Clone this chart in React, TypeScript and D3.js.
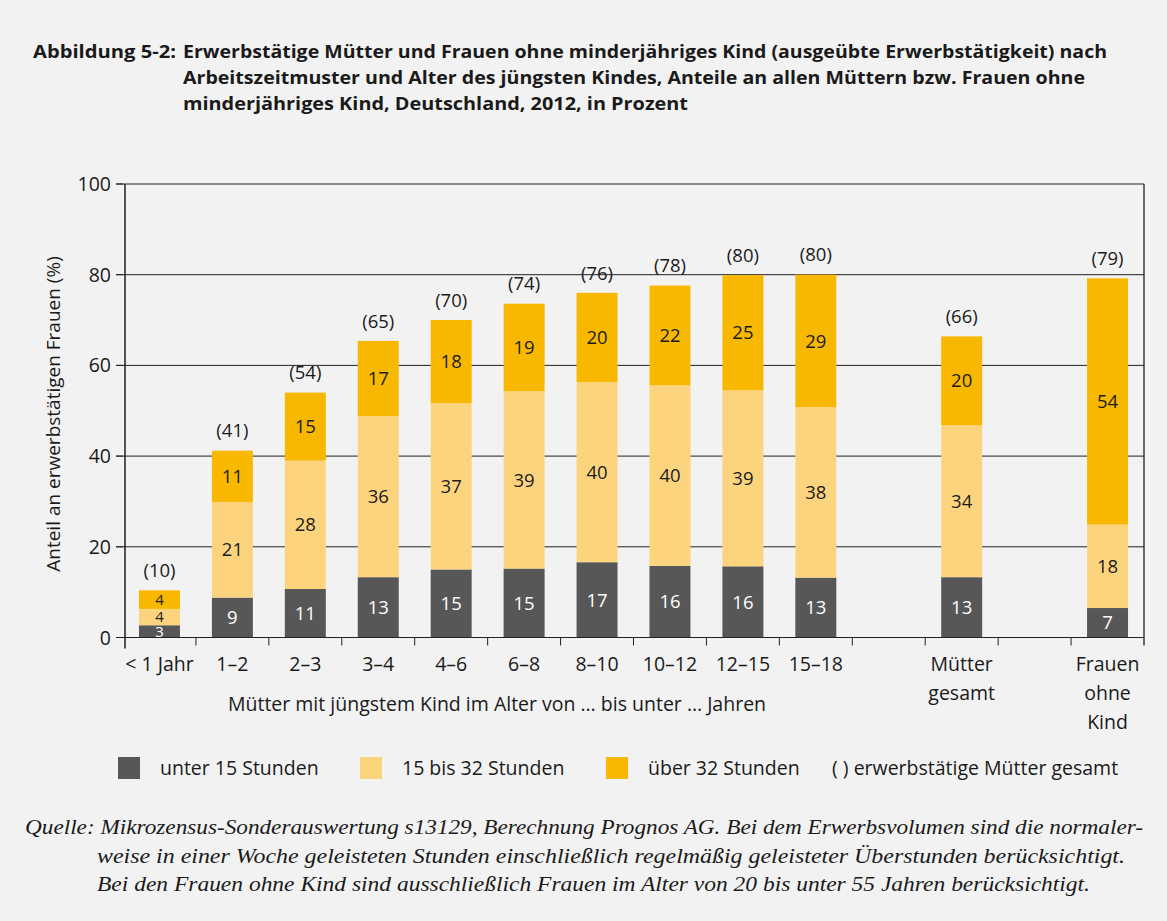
import React from "react";
import * as d3 from "d3";

const groups = ["< 1 Jahr", "1–2", "2–3", "3–4", "4–6", "6–8", "8–10", "10–12", "12–15", "15–18", "Mütter gesamt", "Frauen ohne Kind"];
const slots = ["< 1 Jahr", "1–2", "2–3", "3–4", "4–6", "6–8", "8–10", "10–12", "12–15", "15–18", "gap1", "Mütter gesamt", "gap2", "Frauen ohne Kind"];
const under15 = [2.7, 8.8, 10.7, 13.3, 15.0, 15.2, 16.6, 15.8, 15.7, 13.2, 13.3, 6.5];
const from15to32 = [3.6, 21.1, 28.3, 35.5, 36.7, 39.1, 39.7, 39.8, 38.8, 37.6, 33.5, 18.4];
const over32 = [4.1, 11.3, 15.0, 16.6, 18.3, 19.3, 19.7, 22.0, 25.4, 29.2, 19.6, 54.3];
const totals = [10, 41, 54, 65, 70, 74, 76, 78, 80, 80, 66, 79];
const yTicks = [0, 20, 40, 60, 80, 100];
const seriesNames = ["unter 15 Stunden", "15 bis 32 Stunden", "über 32 Stunden"];
const seriesColors = ["#575757", "#fdd47e", "#f8b800"];
const labelColors = ["#ffffff", "#1c1c1c", "#1c1c1c"];
const xLabelLines: Record<string, string[]> = {
  "Mütter gesamt": ["Mütter", "gesamt"],
  "Frauen ohne Kind": ["Frauen", "ohne", "Kind"],
};
const titleLines = [
  "Erwerbstätige Mütter und Frauen ohne minderjähriges Kind (ausgeübte Erwerbstätigkeit) nach",
  "Arbeitszeitmuster und Alter des jüngsten Kindes, Anteile an allen Müttern bzw. Frauen ohne",
  "minderjähriges Kind, Deutschland, 2012, in Prozent",
];
const titleWidths = [924, 902, 505];
const noteLines = [
  "Quelle: Mikrozensus-Sonderauswertung s13129, Berechnung Prognos AG. Bei dem Erwerbsvolumen sind die normaler-",
  "weise in einer Woche geleisteten Stunden einschließlich regelmäßig geleisteter Überstunden berücksichtigt.",
  "Bei den Frauen ohne Kind sind ausschließlich Frauen im Alter von 20 bis unter 55 Jahren berücksichtigt.",
];
const noteX = [25, 97, 97];
const noteWidths = [1118, 1028, 993];

const W = 1167;
const H = 921;
const left = 123;
const right = 1144;
const top = 184;
const bottom = 637.5;
const FONT = "'Open Sans', Lato, sans-serif";
const TXT = "#1a1a1a";

export default function App() {
  const x = d3.scaleBand<string>().domain(slots).range([left, right]).paddingInner(0.438).paddingOuter(0.219);
  const y = d3.scaleLinear().domain([0, 100]).range([bottom, top]);

  const table = groups.map((g, i) => ({ group: g, s0: under15[i], s1: from15to32[i], s2: over32[i] }));
  const stack = d3.stack<any>().keys(["s0", "s1", "s2"])(table);
  const step = (right - left) / slots.length;
  const bw = x.bandwidth();

  return (
    <div style={{ position: "absolute", left: 0, top: 0 }}>
      <svg width={W} height={H} style={{ display: "block", background: "#f2f2f2" }} fontFamily={FONT}>
        <rect x={0} y={0} width={W} height={H} fill="#f2f2f2" />
        {/* title */}
        <text x={33} y={58} fontSize={17.5} fontWeight={700} fill={TXT} textLength={143} lengthAdjust="spacingAndGlyphs">Abbildung 5-2:</text>
        {titleLines.map((t, i) => (
          <text key={i} x={183} y={58 + i * 26} fontSize={17.5} fontWeight={700} fill={TXT} textLength={titleWidths[i]} lengthAdjust="spacingAndGlyphs">{t}</text>
        ))}

        {/* gridlines */}
        {yTicks.filter((t) => t > 0).map((t) => (
          <line key={t} x1={left - 7} x2={right} y1={y(t)} y2={y(t)} stroke="#222" strokeWidth={1} />
        ))}
        {/* y tick marks */}
        {yTicks.map((t) => (
          <line key={"tk" + t} x1={left - 7} x2={left} y1={y(t)} y2={y(t)} stroke="#222" strokeWidth={1} />
        ))}
        {/* y labels */}
        {yTicks.map((t) => (
          <text key={"yl" + t} x={111} y={y(t)} dy="0.36em" textAnchor="end" fontSize={19.5} fill={TXT}>{t}</text>
        ))}
        <text transform={`translate(60,414) rotate(-90)`} textAnchor="middle" fontSize={19} fill={TXT}>
          Anteil an erwerbstätigen Frauen (%)
        </text>

        {/* bars */}
        {stack.map((layer, si) =>
          layer.map((d, i) => {
            const g = groups[i];
            return (
              <rect key={si + "-" + i} x={x(g)!} width={bw} y={y(d[1])} height={y(d[0]) - y(d[1])} fill={seriesColors[si]} />
            );
          })
        )}
        {/* segment labels */}
        {stack.map((layer, si) =>
          layer.map((d, i) => {
            const g = groups[i];
            const cx = x(g)! + bw / 2;
            const v = d[1] - d[0];
            const h = y(d[0]) - y(d[1]);
            const fs = h < 20 ? 15 : 18.5;
            return (
              <text key={"l" + si + "-" + i} x={cx} y={(y(d[0]) + y(d[1])) / 2} dy="0.36em" textAnchor="middle" fontSize={fs} fill={labelColors[si]}>
                {Math.round(v)}
              </text>
            );
          })
        )}
        {/* totals */}
        {groups.map((g, i) => (
          <text key={"t" + i} x={x(g)! + bw / 2} y={y(under15[i] + from15to32[i] + over32[i]) - 20} dy="0.36em" textAnchor="middle" fontSize={18.5} fill={TXT}>
            ({totals[i]})
          </text>
        ))}

        {/* axes */}
        <line x1={left - 7} x2={right} y1={bottom} y2={bottom} stroke="#222" strokeWidth={1.2} />
        <line x1={left + 2} x2={left + 2} y1={top} y2={bottom + 11} stroke="#111" strokeWidth={1.4} />
        <line x1={right} x2={right} y1={top} y2={bottom + 8} stroke="#111" strokeWidth={1.2} />
        {d3.range(1, slots.length).map((k) => (
          <line key={"xt" + k} x1={left + k * step} x2={left + k * step} y1={bottom} y2={bottom + 8} stroke="#222" strokeWidth={1} />
        ))}

        {/* x labels */}
        {groups.map((g) => {
          const lines = xLabelLines[g] || [g];
          return lines.map((ln, j) => (
            <text key={g + j} x={x(g)! + bw / 2} y={664 + j * 29} dy="0.36em" textAnchor="middle" fontSize={19.5} fill={TXT}>
              {ln}
            </text>
          ));
        })}
        <text x={497} y={704} dy="0.36em" textAnchor="middle" fontSize={19.5} fill={TXT}>
          Mütter mit jüngstem Kind im Alter von … bis unter … Jahren
        </text>

        {/* legend */}
        {seriesNames.map((n, i) => {
          const lx = [118, 360, 606][i];
          return (
            <g key={n}>
              <rect x={lx} y={757} width={22} height={22} fill={seriesColors[i]} />
              <text x={lx + 42} y={768} dy="0.36em" fontSize={19.5} fill={TXT}>{n}</text>
            </g>
          );
        })}
        <text x={832} y={768} dy="0.36em" fontSize={19.5} fill={TXT}>( ) erwerbstätige Mütter gesamt</text>

        {/* footnote */}
        {noteLines.map((t, i) => (
          <text key={"n" + i} x={noteX[i]} y={834 + i * 28.5} fontSize={20} fontStyle="italic" fontFamily="'Liberation Serif', serif" fill={TXT} textLength={noteWidths[i]} lengthAdjust="spacingAndGlyphs">
            {t}
          </text>
        ))}
      </svg>
    </div>
  );
}
